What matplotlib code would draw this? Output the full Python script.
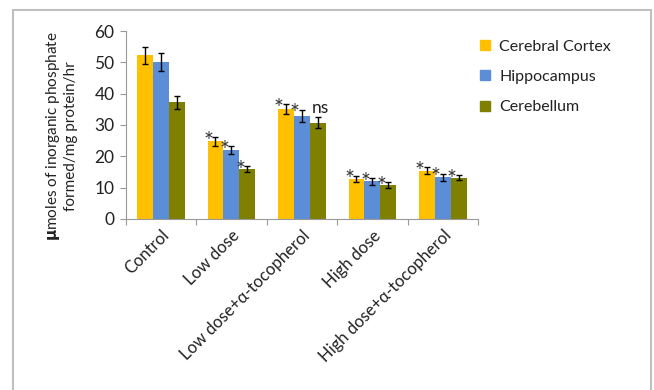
import matplotlib.pyplot as plt
import numpy as np
from matplotlib.lines import Line2D

# Na+/K+ ATPase activity by brain region and treatment group
groups = ["Control", "Low dose", "Low dose+\u03b1-tocopherol", "High dose",
          "High dose+\u03b1-tocopherol"]
regions = ["Cerebral Cortex", "Hippocampus", "Cerebellum"]
cortex = [52.3, 24.8, 35.1, 12.8, 15.4]
cortex_err = [2.7, 1.4, 1.6, 1.0, 1.1]
hippo = [50.2, 22.0, 33.0, 12.0, 13.3]
hippo_err = [2.9, 1.3, 1.9, 1.1, 1.2]
cereb = [37.2, 16.0, 30.7, 10.8, 13.2]
cereb_err = [2.0, 0.9, 1.7, 1.0, 0.8]
marks = [["", "*", "*", "*", "*"],
         ["", "*", "*", "*", "*"],
         ["", "*", "ns", "*", "*"]]

colors = ["#FFC000", "#5B8ED6", "#7F7F00"]

plt.rcParams["font.family"] = ["Lato", "DejaVu Sans"]

fig = plt.figure(figsize=(6.54, 3.90), dpi=100)
ax = fig.add_axes([0.192, 0.4385, 0.539, 0.482])

x = np.arange(len(groups))
w = 0.225
series = [(cortex, cortex_err), (hippo, hippo_err), (cereb, cereb_err)]
for i, (vals, errs) in enumerate(series):
    pos = x + (i - 1) * w
    ax.bar(pos, vals, width=w, color=colors[i], label=regions[i], zorder=2)
    ax.errorbar(pos, vals, yerr=errs, fmt="none", ecolor="black", elinewidth=1,
                capsize=2.5, capthick=1, zorder=3)
    for p, v, e, m in zip(pos, vals, errs, marks[i]):
        if m == "*":
            ax.text(p - 0.1, v + e - 4.7, "*", ha="center", va="bottom",
                    fontsize=17, color="#333333", zorder=4)
        elif m:
            ax.text(p + 0.04, v + e + 0.6, m, ha="center", va="bottom",
                    fontsize=12.5, color="#222222", zorder=4)

ax.set_xlim(-0.5, len(groups) - 0.5)
ax.set_ylim(0, 60)
ax.set_yticks(range(0, 61, 10))
ax.set_xticks(np.arange(len(groups) + 1) - 0.5, minor=False)
ax.set_xticklabels([])
ax.set_xticks(x, minor=True)
ax.set_xticklabels(groups, minor=True, rotation=45, ha="right",
                   rotation_mode="anchor", fontsize=12, color="#222222")
ax.tick_params(axis="x", which="minor", length=0, pad=6)
ax.tick_params(axis="x", which="major", length=4, color="#999999")
ax.tick_params(axis="y", length=4, color="#999999", labelsize=12.5,
               labelcolor="#222222", pad=4)

for side in ["top", "right"]:
    ax.spines[side].set_visible(False)
for side in ["left", "bottom"]:
    ax.spines[side].set_color("#999999")

fig.text(61 / 654, 0.65,
         r"$\mathbf{\mu}$moles of inorganic phosphate" "\nformed/mg protein/hr",
         rotation=90, ha="center", va="center", multialignment="center",
         fontsize=11, color="#222222", linespacing=1.15)

handles = [Line2D([], [], marker="s", ls="none", markersize=7,
                  markerfacecolor=c, markeredgecolor=c) for c in colors]
fig.legend(handles, regions, loc="upper left", bbox_to_anchor=(0.71, 0.935),
           frameon=False, fontsize=11.5, handlelength=0.8, handletextpad=0.5,
           labelspacing=1.0, labelcolor="#222222")

# light chart-area frame
frame = plt.Rectangle((13 / 654, -0.05), 638 / 654, 1.05 - 10 / 390,
                      transform=fig.transFigure, fill=False,
                      edgecolor="#BFBFBF", linewidth=1.5)
fig.add_artist(frame)

fig.savefig("out.png", dpi=100)
